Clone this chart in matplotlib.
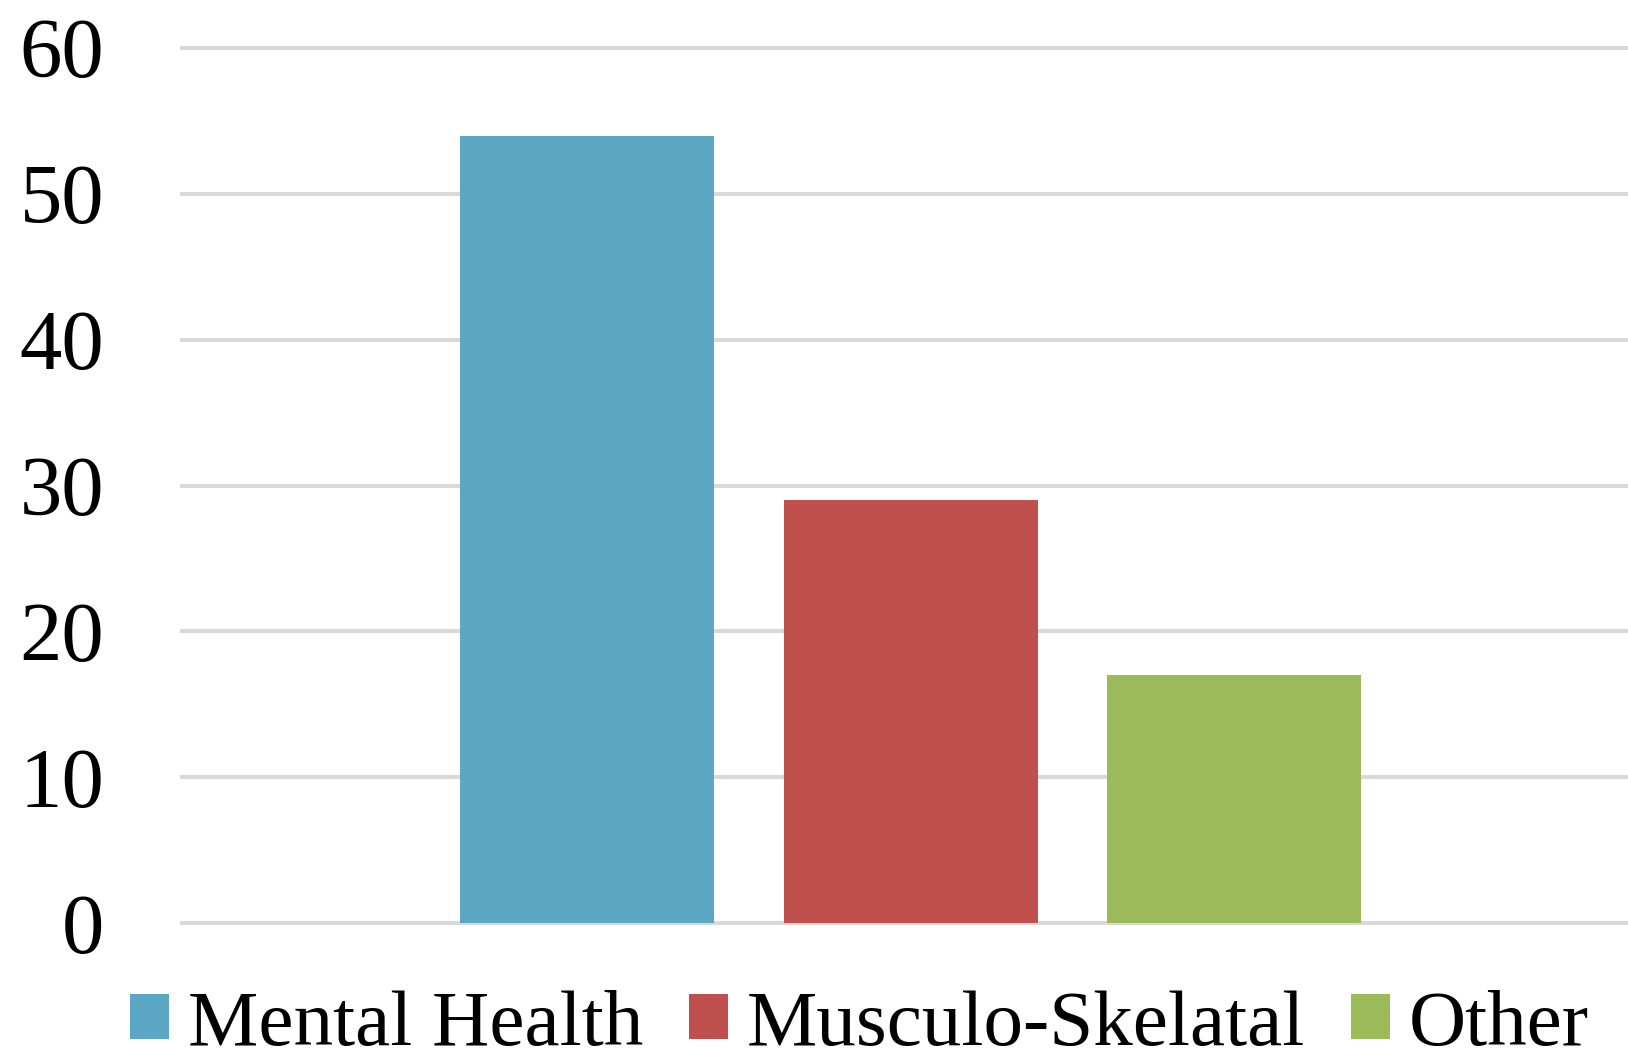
import matplotlib
matplotlib.use("Agg")
import matplotlib.pyplot as plt
import numpy as np

# Datos del gráfico
categorias = ["Mental Health", "Musculo-Skelatal", "Other"]
valores = [54, 29, 17]
colores = ["#5ca8c4", "#c0504d", "#9bbb59"]
ticks_y = [0, 10, 20, 30, 40, 50, 60]

plt.rcParams["font.family"] = ["Liberation Serif", "DejaVu Serif"]

W, H = 1628, 1050
fig = plt.figure(figsize=(W / 100, H / 100), dpi=100)
# área del gráfico en píxeles: x 182..1628, y 48..923 (desde arriba)
ax = fig.add_axes([182 / W, (H - 923) / H, (W - 182) / W, (923 - 48) / H])

x = np.arange(len(categorias))
ancho = 254 / 323.5
for i in range(len(categorias)):
    ax.bar(x[i], valores[i], width=ancho, color=colores[i], label=categorias[i], zorder=3)

ax.set_xlim(-405 / 323.5, 2 + 394 / 323.5)
ax.set_ylim(0, 60)
ax.set_yticks(ticks_y)
ax.set_xticks([])
ax.tick_params(axis="y", length=0, pad=56, labelsize=61)

ax.grid(axis="y", color="#d9d9d9", linewidth=2.9, zorder=0)
for linea in ax.get_ygridlines():
    linea.set_clip_on(False)
for lado in ax.spines.values():
    lado.set_visible(False)

fig.legend(loc="center", bbox_to_anchor=(0.528, 0.023), ncol=3, frameon=False,
           fontsize=57, handlelength=0.49, handleheight=0.49, handletextpad=0.24,
           columnspacing=0.58, borderaxespad=0, borderpad=0)

fig.savefig("out.png", dpi=100, facecolor="white")
